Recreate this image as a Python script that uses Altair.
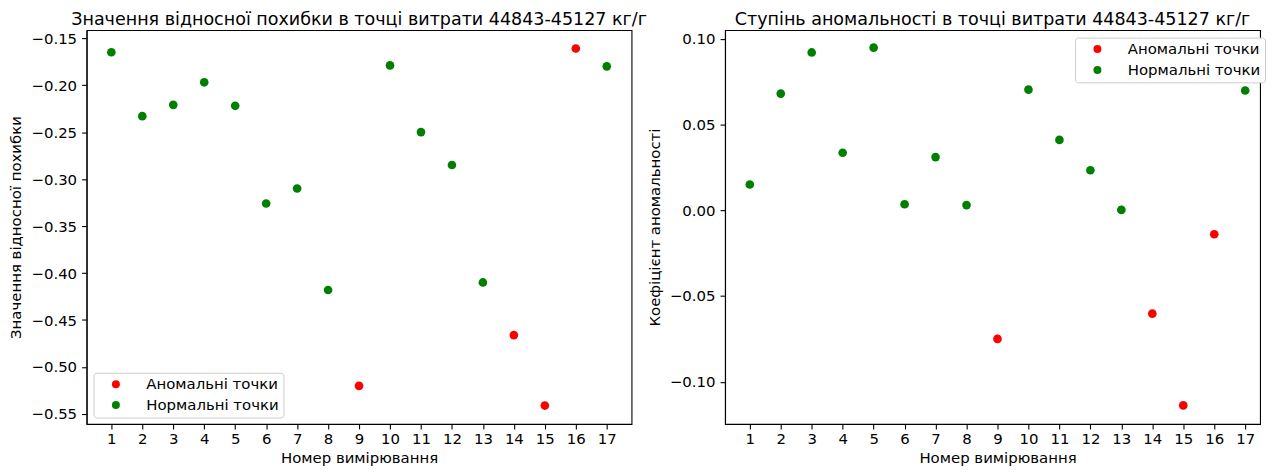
import altair as alt
import pandas as pd

measurements = list(range(1, 18))
rel_error = [-0.165, -0.233, -0.221, -0.197, -0.222, -0.326, -0.310, -0.418, -0.520,
             -0.179, -0.250, -0.285, -0.410, -0.466, -0.541, -0.161, -0.180]
anomaly_coef = [0.015, 0.068, 0.092, 0.0335, 0.0948, 0.0035, 0.031, 0.003, -0.075,
                0.0703, 0.041, 0.0233, 0.0002, -0.0603, -0.1138, -0.014, 0.0698]
anomalous_ids = [9, 14, 15, 16]

cat_names = ["Аномальні точки", "Нормальні точки"]
cat_colors = ["red", "green"]

left_ticks = [-0.55, -0.50, -0.45, -0.40, -0.35, -0.30, -0.25, -0.20, -0.15]
right_ticks = [-0.10, -0.05, 0.00, 0.05, 0.10]

df = pd.DataFrame({
    "n": measurements,
    "err": rel_error,
    "coef": anomaly_coef,
    "type": [cat_names[0] if m in anomalous_ids else cat_names[1] for m in measurements],
})

FONT = "DejaVu Sans"
FS = 15

def panel(field, title, ytitle, ydomain, yticks, width, xmax, lx, ly):
    return alt.Chart(df).mark_circle(size=76, opacity=1).encode(
        x=alt.X("n:Q", title="Номер вимірювання",
                scale=alt.Scale(domain=[0.2, xmax], nice=False, zero=False),
                axis=alt.Axis(values=measurements, format="d", grid=False,
                              labelPadding=3, titlePadding=4, titleX=274)),
        y=alt.Y(f"{field}:Q", title=ytitle,
                scale=alt.Scale(domain=ydomain, nice=False, zero=False),
                axis=alt.Axis(values=yticks, format=".2f", grid=False,
                              labelPadding=5, titlePadding=7)),
        color=alt.Color("type:N",
                        scale=alt.Scale(domain=cat_names, range=cat_colors),
                        legend=alt.Legend(title=None, orient="none", legendX=lx, legendY=ly,
                                          fillColor="white", strokeColor="#cccccc",
                                          cornerRadius=3, padding=4, rowPadding=5,
                                          symbolType="circle", symbolSize=64,
                                          symbolOffset=11, labelOffset=23,
                                          labelFontSize=FS, labelFont=FONT,
                                          labelColor="black")),
    ).properties(
        width=width, height=396,
        title=alt.Title(title, fontSize=17.6, font=FONT, fontWeight="normal",
                        color="black", offset=2),
    )

left = panel("err", "Значення відносної похибки в точці витрати 44843-45127 кг/г",
             "Значення відносної похибки", [-0.5606, -0.1415], left_ticks,
             548, 17.8, 7, 344.5)
right = panel("coef", "Ступінь аномальності в точці витрати  44843-45127 кг/г",
              "Коефіцієнт аномальності", [-0.1246, 0.105], right_ticks,
              538, 17.479, 352, 7.5)

chart = alt.hconcat(left, right, spacing=94, bounds="flush").resolve_scale(
    color="independent", y="independent"
).resolve_legend(color="independent").properties(
    padding={"left": 0, "top": 0, "right": 0, "bottom": -2}
).configure_view(
    stroke="black", strokeWidth=1.1
).configure_axis(
    labelFont=FONT, titleFont=FONT, labelFontSize=FS, titleFontSize=FS,
    labelColor="black", titleColor="black", titleFontWeight="normal",
    domainColor="black", domainWidth=1.1, tickColor="black", tickWidth=1.1,
    tickSize=5,
)

chart.save("out.html", embed_options={"renderer": "svg", "actions": False})
